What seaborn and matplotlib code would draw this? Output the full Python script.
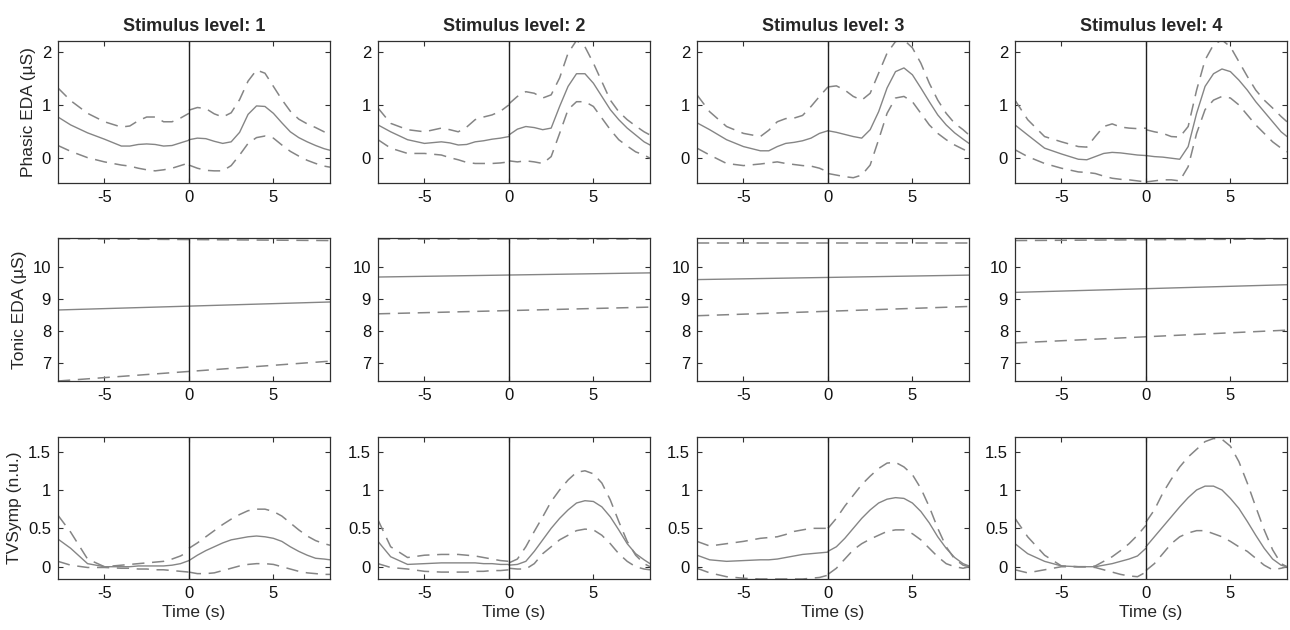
"""Grand-average EDA / TVSymp responses per stimulus level."""
import matplotlib
matplotlib.use('Agg')
import matplotlib.pyplot as plt
import seaborn as sns

levels = [1, 2, 3, 4]
row_labels = ['Phasic EDA (\u00b5S)', 'Tonic EDA (\u00b5S)', 'TVSymp (n.u.)']

# time bases (s), pre- and post-stimulus segments are drawn separately
time_pre = [-7.75, -7, -6, -5, -4, -3.5, -3, -2.5, -2, -1.5, -1, -0.5, 0]
time_post = [0, 0.5, 1, 1.5, 2, 2.5, 3, 3.5, 4, 4.5, 5, 5.5, 6, 6.5, 7, 7.5, 8, 8.35]
tonic_time = [-7.75, 8.35]

# phasic EDA, one list per stimulus level
phasic_mean_pre = [
    [0.77, 0.62, 0.47, 0.35, 0.22, 0.22, 0.25, 0.26, 0.25, 0.22, 0.23, 0.28, 0.33],
    [0.62, 0.49, 0.34, 0.27, 0.30, 0.28, 0.24, 0.25, 0.30, 0.32, 0.35, 0.37, 0.40],
    [0.66, 0.53, 0.34, 0.21, 0.13, 0.13, 0.21, 0.27, 0.29, 0.32, 0.37, 0.46, 0.51],
    [0.62, 0.43, 0.18, 0.07, -0.03, -0.04, 0.02, 0.08, 0.10, 0.09, 0.07, 0.05, 0.04],
]
phasic_upper_pre = [
    [1.32, 1.08, 0.84, 0.68, 0.58, 0.60, 0.70, 0.77, 0.77, 0.68, 0.68, 0.75, 0.84],
    [0.94, 0.65, 0.53, 0.49, 0.56, 0.53, 0.49, 0.58, 0.72, 0.77, 0.81, 0.88, 1.00],
    [1.19, 0.87, 0.59, 0.46, 0.40, 0.52, 0.68, 0.74, 0.75, 0.80, 0.97, 1.16, 1.34],
    [1.09, 0.72, 0.40, 0.30, 0.21, 0.20, 0.40, 0.59, 0.64, 0.58, 0.56, 0.55, 0.56],
]
phasic_lower_pre = [
    [0.23, 0.12, 0.00, -0.08, -0.14, -0.16, -0.20, -0.23, -0.25, -0.23, -0.20, -0.15, -0.10],
    [0.34, 0.18, 0.08, 0.08, 0.05, 0.00, -0.04, -0.09, -0.11, -0.11, -0.11, -0.10, -0.08],
    [0.18, 0.05, -0.11, -0.15, -0.12, -0.10, -0.08, -0.11, -0.13, -0.15, -0.16, -0.20, -0.27],
    [0.15, 0.02, -0.11, -0.20, -0.27, -0.28, -0.30, -0.35, -0.39, -0.41, -0.42, -0.44, -0.46],
]
phasic_mean_post = [
    [0.34, 0.37, 0.36, 0.31, 0.27, 0.30, 0.48, 0.82, 0.98, 0.97, 0.84, 0.66, 0.49, 0.38, 0.30, 0.23, 0.17, 0.14],
    [0.43, 0.54, 0.59, 0.57, 0.53, 0.56, 0.97, 1.35, 1.59, 1.59, 1.41, 1.16, 0.91, 0.72, 0.56, 0.43, 0.30, 0.24],
    [0.51, 0.48, 0.44, 0.40, 0.37, 0.53, 0.87, 1.32, 1.63, 1.70, 1.57, 1.32, 1.06, 0.81, 0.62, 0.47, 0.35, 0.27],
    [0.04, 0.02, 0.01, -0.01, -0.03, 0.21, 0.84, 1.35, 1.59, 1.68, 1.63, 1.47, 1.28, 1.06, 0.87, 0.68, 0.49, 0.40],
]
phasic_upper_post = [
    [0.90, 0.95, 0.93, 0.83, 0.77, 0.85, 1.10, 1.45, 1.66, 1.60, 1.35, 1.10, 0.88, 0.73, 0.64, 0.57, 0.49, 0.45],
    [1.02, 1.16, 1.25, 1.22, 1.13, 1.19, 1.51, 1.98, 2.22, 2.10, 1.79, 1.44, 1.09, 0.87, 0.72, 0.60, 0.49, 0.43],
    [1.34, 1.36, 1.28, 1.16, 1.09, 1.22, 1.60, 1.98, 2.20, 2.23, 2.08, 1.79, 1.41, 1.09, 0.84, 0.65, 0.53, 0.43],
    [0.53, 0.49, 0.46, 0.40, 0.39, 0.59, 1.28, 1.85, 2.14, 2.23, 2.10, 1.82, 1.54, 1.28, 1.09, 0.94, 0.78, 0.68],
]
phasic_lower_post = [
    [-0.14, -0.20, -0.24, -0.25, -0.25, -0.15, 0.05, 0.27, 0.38, 0.41, 0.37, 0.24, 0.12, 0.03, -0.05, -0.11, -0.16, -0.18],
    [-0.06, -0.08, -0.06, -0.08, -0.11, 0.02, 0.46, 0.91, 1.06, 1.06, 0.97, 0.75, 0.53, 0.34, 0.22, 0.11, 0.05, -0.01],
    [-0.30, -0.33, -0.36, -0.38, -0.33, -0.14, 0.34, 0.84, 1.13, 1.16, 1.06, 0.84, 0.62, 0.46, 0.34, 0.24, 0.16, 0.11],
    [-0.46, -0.44, -0.42, -0.42, -0.44, -0.17, 0.46, 0.91, 1.09, 1.16, 1.13, 1.00, 0.81, 0.62, 0.46, 0.30, 0.18, 0.11],
]

# tonic EDA (start, end)
tonic_mean = [[8.65, 8.90], [9.68, 9.81], [9.60, 9.74], [9.20, 9.44]]
tonic_upper = [[10.88, 10.82], [10.86, 10.86], [10.73, 10.73], [10.82, 10.87]]
tonic_lower = [[6.43, 7.05], [8.53, 8.74], [8.47, 8.76], [7.62, 8.02]]

# TVSymp
tvs_mean_pre = [
    [0.36, 0.24, 0.04, 0.00, 0.00, 0.00, 0.01, 0.01, 0.01, 0.01, 0.02, 0.04, 0.08],
    [0.33, 0.13, 0.03, 0.04, 0.05, 0.05, 0.05, 0.05, 0.05, 0.04, 0.04, 0.03, 0.03],
    [0.15, 0.09, 0.07, 0.08, 0.09, 0.09, 0.10, 0.12, 0.14, 0.16, 0.17, 0.18, 0.19],
    [0.30, 0.17, 0.07, 0.01, 0.00, 0.00, 0.00, 0.02, 0.04, 0.07, 0.10, 0.14, 0.24],
]
tvs_upper_pre = [
    [0.67, 0.45, 0.10, 0.00, 0.02, 0.03, 0.04, 0.05, 0.06, 0.07, 0.10, 0.14, 0.20],
    [0.61, 0.26, 0.12, 0.15, 0.16, 0.16, 0.16, 0.15, 0.14, 0.12, 0.10, 0.08, 0.07],
    [0.33, 0.27, 0.30, 0.33, 0.37, 0.38, 0.39, 0.42, 0.46, 0.48, 0.50, 0.50, 0.50],
    [0.63, 0.39, 0.15, 0.01, 0.00, 0.00, 0.01, 0.07, 0.13, 0.21, 0.30, 0.41, 0.54],
]
tvs_lower_pre = [
    [0.07, 0.02, -0.01, -0.01, -0.02, -0.02, -0.03, -0.03, -0.04, -0.04, -0.05, -0.06, -0.07],
    [0.04, -0.01, -0.03, -0.06, -0.07, -0.07, -0.07, -0.07, -0.06, -0.06, -0.05, -0.05, -0.04],
    [-0.02, -0.08, -0.13, -0.15, -0.16, -0.16, -0.16, -0.16, -0.16, -0.16, -0.15, -0.14, -0.11],
    [-0.04, -0.08, -0.04, 0.00, 0.00, 0.00, -0.01, -0.04, -0.07, -0.10, -0.12, -0.13, -0.07],
]
tvs_mean_post = [
    [0.08, 0.15, 0.21, 0.26, 0.31, 0.35, 0.37, 0.39, 0.40, 0.39, 0.37, 0.33, 0.26, 0.20, 0.15, 0.11, 0.10, 0.09],
    [0.02, 0.03, 0.07, 0.20, 0.35, 0.50, 0.63, 0.74, 0.83, 0.86, 0.85, 0.78, 0.65, 0.48, 0.30, 0.17, 0.09, 0.04],
    [0.20, 0.26, 0.37, 0.50, 0.63, 0.74, 0.83, 0.88, 0.90, 0.89, 0.83, 0.72, 0.57, 0.39, 0.24, 0.12, 0.04, 0.01],
    [0.26, 0.39, 0.52, 0.65, 0.78, 0.90, 1.00, 1.05, 1.05, 1.00, 0.89, 0.76, 0.59, 0.41, 0.24, 0.10, 0.02, 0.00],
]
tvs_upper_post = [
    [0.24, 0.31, 0.39, 0.47, 0.55, 0.62, 0.68, 0.73, 0.75, 0.75, 0.72, 0.66, 0.57, 0.48, 0.40, 0.34, 0.30, 0.28],
    [0.05, 0.10, 0.26, 0.46, 0.65, 0.85, 1.00, 1.13, 1.23, 1.25, 1.21, 1.09, 0.87, 0.59, 0.33, 0.15, 0.04, 0.00],
    [0.50, 0.63, 0.79, 0.93, 1.07, 1.18, 1.28, 1.35, 1.36, 1.30, 1.20, 1.02, 0.78, 0.50, 0.26, 0.10, 0.02, 0.00],
    [0.58, 0.74, 0.96, 1.14, 1.30, 1.43, 1.53, 1.63, 1.67, 1.66, 1.57, 1.37, 1.09, 0.78, 0.48, 0.22, 0.04, 0.00],
]
tvs_lower_post = [
    [-0.07, -0.09, -0.09, -0.08, -0.05, -0.02, 0.01, 0.03, 0.04, 0.04, 0.03, 0.00, -0.03, -0.06, -0.08, -0.09, -0.10, -0.10],
    [-0.02, -0.03, -0.03, 0.04, 0.17, 0.26, 0.35, 0.41, 0.47, 0.49, 0.48, 0.41, 0.30, 0.17, 0.07, 0.00, -0.03, -0.04],
    [-0.10, -0.02, 0.10, 0.22, 0.30, 0.36, 0.41, 0.46, 0.48, 0.48, 0.43, 0.35, 0.24, 0.13, 0.04, 0.00, -0.02, 0.00],
    [-0.05, 0.04, 0.17, 0.30, 0.39, 0.44, 0.47, 0.47, 0.43, 0.39, 0.33, 0.26, 0.20, 0.11, 0.02, -0.04, -0.02, 0.00],
]

sns.set_style('ticks')
plt.rcParams['font.family'] = ['Liberation Sans', 'DejaVu Sans']
plt.rcParams['axes.edgecolor'] = '#303030'
plt.rcParams['axes.linewidth'] = 0.9

LINE = '#858585'
DASH = (8, 5)

fig = plt.figure(figsize=(12.9, 6.3), dpi=100)
lefts = [58, 378, 697, 1015]
rows_px = [(41, 183), (238, 381), (437, 579)]
ylims = [(-0.48, 2.21), (6.43, 10.9), (-0.16, 1.69)]
yticks = [[0, 1, 2], [7, 8, 9, 10], [0, 0.5, 1, 1.5]]
yticklabels = [['0', '1', '2'], ['7', '8', '9', '10'], ['0', '0.5', '1', '1.5']]


def draw_band(ax, t, mean, upper, lower):
    sns.lineplot(x=t, y=mean, ax=ax, color=LINE, lw=1.0, sort=False)
    for band in (upper, lower):
        sns.lineplot(x=t, y=band, ax=ax, color=LINE, lw=1.1, sort=False,
                     dashes=False).lines[-1].set_dashes(DASH)


for r in range(3):
    top, bot = rows_px[r]
    for c, lvl in enumerate(levels):
        ax = fig.add_axes([lefts[c] / 1290, 1 - bot / 630, 272 / 1290, (bot - top) / 630])
        if r == 0:
            draw_band(ax, time_pre, phasic_mean_pre[c], phasic_upper_pre[c], phasic_lower_pre[c])
            draw_band(ax, time_post, phasic_mean_post[c], phasic_upper_post[c], phasic_lower_post[c])
            ax.set_title(f'Stimulus level: {lvl}', fontsize=13, fontweight='bold', pad=7)
        elif r == 1:
            draw_band(ax, tonic_time, tonic_mean[c], tonic_upper[c], tonic_lower[c])
        else:
            draw_band(ax, time_pre, tvs_mean_pre[c], tvs_upper_pre[c], tvs_lower_pre[c])
            draw_band(ax, time_post, tvs_mean_post[c], tvs_upper_post[c], tvs_lower_post[c])
            ax.set_xlabel('Time (s)', fontsize=12.5, labelpad=3)
        ax.axvline(0, color='#202020', lw=1.0)
        ax.set_xlim(-7.75, 8.35)
        ax.set_ylim(*ylims[r])
        ax.set_xticks([-5, 0, 5])
        ax.set_xticklabels(['-5', '0', '5'])
        ax.set_yticks(yticks[r])
        ax.set_yticklabels(yticklabels[r])
        ax.tick_params(direction='in', length=3.5, width=0.8, top=True, right=True,
                       labelsize=12, pad=5, colors='#303030', labelcolor='#111111')
        if c == 0:
            ax.set_ylabel(row_labels[r], fontsize=12.5, labelpad=4)
        else:
            ax.set_ylabel('')
        if r < 2:
            ax.set_xlabel('')

fig.savefig('out.png', dpi=100)
